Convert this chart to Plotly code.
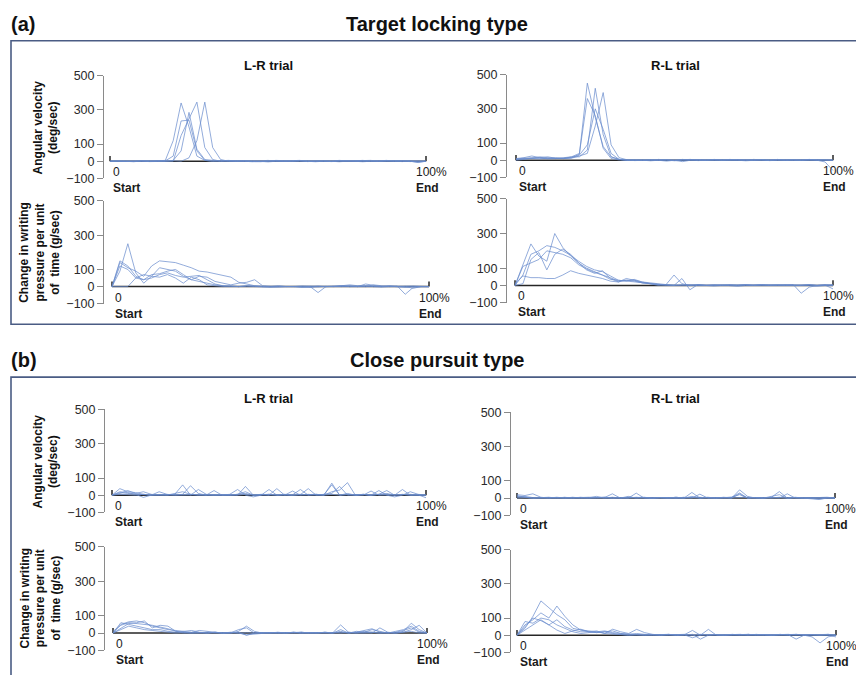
import plotly.graph_objects as go

# ---------------- data ----------------
PCT = [0, 2.5, 5, 7.5, 10, 12.5, 15, 17.5, 20, 22.5, 25, 27.5, 30, 32.5, 35, 37.5, 40,
       42.5, 45, 47.5, 50, 52.5, 55, 57.5, 60, 62.5, 65, 67.5, 70, 72.5, 75, 77.5, 80,
       82.5, 85, 87.5, 90, 92.5, 95, 97.5, 100]

Y_TICKS = [-100, 0, 100, 300, 500]

# (a) Target locking type, L-R trial, angular velocity
A_LR_ANG = [
    [0, 2, 0, -3, 2, 0, 3, 5, 120, 340, 200, 30, 5, 0, 3, 5, 2, 0, -5, -3, 0, 5, 3, 0, 2, -2, 0, 3, 0, -3, 0, 2, 5, 0, -2, 0, 3, 0, -2, 0, 0],
    [0, 0, 3, 2, 0, -2, 0, 2, 0, 150, 250, 345, 80, 10, 0, 2, 5, 3, 0, -2, 0, 2, 0, 3, 5, 0, -3, 0, 2, 0, 3, 0, -2, 0, 2, 5, 0, 3, 0, -5, 0],
    [0, 2, 0, 0, 3, 0, 2, 0, 3, 0, 20, 120, 345, 80, 10, 0, 2, 0, -3, 0, 3, 2, 0, -2, 0, 3, 0, 2, 0, 5, 2, 0, -3, 0, 2, 0, 3, 2, 0, 2, 0],
    [0, 0, 2, 0, -2, 0, 3, 0, 5, 60, 285, 70, 10, 3, 0, 2, 0, 3, 0, 2, 5, 0, -2, 0, 2, 0, 3, 0, -2, 0, 2, 0, 3, 5, 0, 2, 0, -2, 3, 0, 0],
    [0, 3, 0, 2, 0, 3, 0, 2, 30, 235, 240, 60, 5, 0, 2, 0, -2, 0, 3, 0, -4, 0, 2, 0, 3, 0, 2, 0, 0, 3, 0, -2, 0, 2, 0, 3, 0, 2, 0, -8, 0],
]
# (a) R-L trial, angular velocity
A_RL_ANG = [
    [5, 8, 12, 20, 15, 10, 12, 15, 35, 450, 250, 80, 20, 5, 0, 2, 0, -3, 0, 3, 0, 2, 5, 0, -2, 0, 3, 0, 2, 0, 5, 0, -2, 0, 3, 0, 2, 0, 3, 0, 0],
    [10, 15, 25, 15, 10, 8, 10, 20, 20, 60, 420, 150, 20, 5, 0, -2, 0, 3, 0, -5, 0, 2, 0, 3, 0, 5, 0, 2, 0, -3, 0, 2, 0, 5, 0, 3, 0, 2, 0, -10, -60],
    [0, 5, 10, 8, 12, 15, 10, 12, 25, 40, 200, 395, 90, 15, 3, 0, 2, 0, 5, 0, -3, 0, 2, 0, 3, 0, 2, 0, 4, 0, 2, 0, 3, 0, -2, 0, 2, 0, 3, 2, 0],
    [5, 10, 15, 12, 8, 10, 15, 20, 40, 360, 260, 70, 10, 2, 0, 3, 0, -2, 0, 2, 0, -8, 0, 3, 0, 2, 0, 5, 0, 2, 0, 3, 0, 2, 0, -2, 0, 4, 0, 2, 0],
    [8, 12, 10, 15, 20, 12, 10, 15, 30, 90, 300, 180, 40, 5, 0, 2, 0, 3, 0, 2, 0, 5, 0, -2, 0, 3, 0, 2, 0, 3, 0, -2, 0, 2, 0, 3, 0, 5, 0, 2, 0],
]
# (a) L-R trial, change in writing pressure
A_LR_PRES = [
    [0, 90, 250, 80, 20, 60, 110, 100, 90, 60, 40, 30, 20, 10, 5, 3, 0, 5, 0, 2, 0, -3, 0, 2, 0, -5, 0, 2, 0, 3, 0, 2, 5, 0, -3, 0, 2, 0, -10, 0, 0],
    [0, 150, 120, 60, 40, 50, 70, 80, 65, 55, 60, 65, 40, 15, 5, 2, 0, 3, 0, -2, 0, 5, 0, 2, 0, 3, 0, -2, 0, 5, 10, 5, 0, 2, 0, 3, 0, -5, 0, 2, 0],
    [0, 140, 110, 90, 60, 120, 150, 145, 140, 125, 110, 90, 85, 75, 65, 55, 25, 15, 5, 0, -3, 0, 2, 0, -5, 0, 2, 0, 3, 5, 0, 2, 0, 10, 5, 0, 2, 0, 3, 0, 0],
    [0, 0, 0, 50, 40, 70, 75, 90, 100, 70, 40, 60, 55, 30, 20, 10, 20, 25, 40, 5, 2, 0, -2, 0, 3, 0, -35, 0, 2, 0, 5, 0, 15, 8, 0, 5, 0, 3, 0, 0, 0],
    [0, 120, 100, 50, 70, 60, 55, 70, 50, 20, 55, 40, 10, 5, 0, 2, 0, 3, 5, 0, -3, 0, 2, 0, -2, 0, 3, 0, 2, 0, 3, 0, 5, 0, 2, 0, 3, -45, -5, 0, 0],
]
# (a) R-L trial, change in writing pressure
A_RL_PRES = [
    [0, 120, 240, 170, 140, 300, 220, 170, 130, 100, 80, 60, 45, 25, 30, 30, 20, 15, 10, 5, 60, 10, 0, 5, 0, -3, 0, 2, 0, 5, 0, 2, 0, 3, 0, -2, 0, 5, 0, 2, -20],
    [0, 60, 180, 200, 230, 220, 200, 175, 140, 110, 90, 80, 55, 30, 25, 35, 20, 10, 5, 5, 0, 40, -25, 5, 0, 2, 0, 3, 0, 2, 0, 5, 0, 2, 0, 5, -45, -10, 0, 5, 0],
    [0, 10, 150, 190, 90, 180, 210, 180, 130, 90, 70, 85, 40, 20, 40, 30, 15, 10, 5, 0, 3, 0, 5, 0, 2, 0, 3, 0, -5, 0, 2, 0, 3, 0, 5, 0, 2, 0, -5, 0, 5],
    [10, 55, 45, 45, 40, 40, 60, 85, 70, 60, 50, 40, 25, 20, 30, 25, 15, 10, 0, 5, 0, 3, 0, -2, 0, 5, 0, 3, 0, 2, 0, 5, 0, 2, 0, 3, 0, 2, 0, 3, 0],
    [0, 110, 130, 150, 200, 190, 180, 160, 120, 95, 75, 60, 35, 30, 25, 20, 15, 10, 5, 2, 0, 3, 0, 5, 0, 2, 0, 3, 0, 5, 0, 2, 0, 3, 0, 2, 0, 5, 0, 2, 0],
]
# (b) Close pursuit type, L-R trial, angular velocity
B_LR_ANG = [
    [0, 38, 20, 15, 5, 0, 3, 0, 5, 60, 0, 5, 0, 3, 0, 2, 0, 51, 0, 5, 0, 3, 0, 2, 33, 0, 5, 0, 70, 0, 5, 0, 3, 0, 27, 0, 2, 0, 5, 0, 0],
    [0, 10, 27, 10, 20, 5, 0, 3, 0, 5, 55, 10, 0, 27, 0, 5, 33, 0, -10, 0, 33, 0, 5, 0, 3, 38, 0, 5, 10, 51, 0, 3, 0, 24, 0, 5, 0, 33, 0, 3, 0],
    [0, 20, 15, 5, -13, 0, 20, 5, 0, 3, 0, 33, 5, 0, 3, 0, 5, 20, 0, 3, 0, 38, 0, 24, 0, 5, 0, 3, 60, 0, 10, 0, 5, 0, 3, 0, -10, 0, 20, 5, 0],
    [0, 5, 3, 0, 5, 0, 3, 0, 10, 20, 5, 0, 3, 0, 2, 0, 5, 10, 0, 3, 5, 0, 3, 0, 2, 0, 5, 0, 20, 30, 73, 0, 5, 0, 3, 10, 0, 5, 0, 2, 0],
    [0, 15, 10, 5, 3, 0, 2, 0, 3, 0, 5, 0, 2, 0, 0, 3, 0, 5, 0, 0, 5, 0, 2, 0, 5, 0, 3, 0, 5, 0, 2, 0, 3, 0, 5, 27, 0, 3, 0, 2, -15],
]
# (b) R-L trial, angular velocity
B_RL_ANG = [
    [20, 15, 25, 5, 0, 3, 0, 2, 0, 5, 0, 3, 25, 0, 5, 0, 3, 0, 2, 0, 5, 0, 33, 0, 3, 0, 5, 0, 48, 10, 0, 3, 0, 5, 0, 2, 0, 3, 0, 2, 0],
    [5, 10, 3, 0, 2, 0, 5, 0, 3, 0, 2, 5, 0, 3, 0, 29, 0, 2, 0, 3, 0, 5, 0, 23, 0, 2, 0, 5, 30, 0, 3, 0, 5, 38, 0, 3, 0, 2, 0, 5, 0],
    [10, 5, 0, 3, 0, 5, 0, 2, 0, 3, 10, 0, 5, 0, 2, 0, 5, 0, 3, 0, 2, 0, 10, 0, 3, 0, 2, 5, 20, 0, 3, 0, 5, 0, 25, 0, 2, 0, -5, 0, 5],
    [0, 3, 0, 2, 5, 0, 3, 0, 5, 0, 3, 0, 2, 0, 10, 0, 3, 0, 2, 0, 5, 0, 3, 0, 5, 0, 2, 0, 25, 0, 3, 0, 10, 20, 0, 3, 0, -5, -8, 0, 0],
    [15, 5, 0, 2, 0, 3, 0, 5, 0, 2, 0, 5, 0, 3, 0, 5, 0, 2, 0, 3, 0, 2, 0, 5, 0, 3, 0, 2, 0, 5, 0, 2, 0, 3, 0, 5, 0, 2, 0, 3, 0],
]
# (b) L-R trial, change in writing pressure
B_LR_PRES = [
    [0, 50, 65, 70, 60, 40, 30, 20, 15, 10, 5, 15, 10, 5, 0, 0, 10, 40, 10, 0, 3, 0, 2, 0, 5, 0, 3, 0, 2, 47, 5, 0, 3, 0, 30, 5, 0, 10, 57, 20, 0],
    [10, 45, 60, 55, 50, 45, 35, 25, 10, 0, 3, 0, 5, 0, 2, 0, 5, -13, 0, 2, 0, 3, 0, 5, 0, 2, 0, 3, 0, 5, 0, 10, 5, 20, 10, 0, 5, 15, 30, 5, 0],
    [0, 30, 55, 60, 70, 30, 45, 40, 10, 5, 0, 3, 0, 5, 0, 2, 20, 30, 0, 3, 0, 2, 0, 5, 0, 3, 0, 5, 0, 20, 0, 5, 15, 25, 5, 0, 10, 20, 40, 10, 0],
    [0, 20, 40, 30, 20, 15, 10, 5, 0, 3, 0, 2, 0, 5, 0, 3, 0, -10, -5, 0, 2, 0, 3, 0, 5, 0, 2, 0, 3, 0, 5, 0, 10, 5, 0, 3, 0, 5, 10, 0, 0],
    [0, 60, 50, 40, 30, 20, 20, 10, 5, 10, 15, 5, 0, 3, 0, 5, 0, 2, 0, 3, 0, 5, 0, 2, 0, 3, 0, 5, 0, 10, 0, 3, 0, 5, 0, 2, 0, 5, 20, 45, 0],
]
# (b) R-L trial, change in writing pressure
B_RL_PRES = [
    [0, 40, 110, 200, 160, 120, 90, 40, 30, 20, 15, 20, 25, 10, 5, 10, 5, 0, 3, 0, 2, 0, 5, -23, 0, 3, 0, 2, 0, 5, 0, 3, 0, 2, 0, 5, 0, 3, 0, 2, 0],
    [0, 60, 90, 130, 100, 170, 110, 60, 30, 25, 20, 25, 15, 10, 5, 3, 0, 2, 0, 5, 0, 3, 28, 0, 34, 0, 2, 0, 3, 0, 5, 0, 2, 0, 3, -23, 0, 2, 0, 5, 0],
    [0, 80, 70, 100, 90, 60, 40, 20, 10, 15, 20, 10, 35, 20, 10, 34, 15, 5, 0, 3, 0, 2, 0, 5, 0, 3, 0, 2, 0, 5, 0, 3, 0, 2, 0, 5, 0, -10, -45, -10, 0],
    [0, 30, 60, 90, 60, 30, 10, 25, 35, 20, 15, 20, 10, 5, 0, 3, 0, 2, 0, 5, 0, 2, -15, 0, 3, 0, 2, 0, 5, 0, 3, 0, 2, 0, 5, 0, 3, 0, 2, 0, -10],
    [0, 50, 100, 85, 60, 90, 50, 30, 20, 20, 25, 10, 5, 3, 0, 2, 0, 3, 0, 2, 0, 5, 0, 2, 0, 3, 0, 5, 0, 2, 0, 3, 0, 5, 0, 2, 0, 3, 0, 5, 0],
]

# ---------------- layout (pixel geometry) ----------------
W, H = 856, 675
FONT = "Liberation Sans, Arial, sans-serif"
LINE_COLOR = "rgba(105,140,205,0.80)"
BOX_COLOR = "#4a5c84"

# axis: px of y-axis line; x0/x100: px of 0% / 100%; top/bot: px of 500 / -100
PANELS = [
    dict(series=A_LR_ANG, axis=104, x0=110, x100=426, top=70, bot=175),
    dict(series=A_RL_ANG, axis=507, x0=516, x100=833, top=69, bot=174),
    dict(series=A_LR_PRES, axis=104, x0=112, x100=429, top=198, bot=303),
    dict(series=A_RL_PRES, axis=507, x0=515, x100=833, top=196, bot=302),
    dict(series=B_LR_ANG, axis=105, x0=112, x100=426, top=411, bot=516),
    dict(series=B_RL_ANG, axis=511, x0=517, x100=835, top=414, bot=519),
    dict(series=B_LR_PRES, axis=105, x0=113, x100=427, top=551, bot=657),
    dict(series=B_RL_PRES, axis=511, x0=517, x100=836, top=554, bot=659),
]

fig = go.Figure()
annotations = []
layout_axes = {}

for k, p in enumerate(PANELS, start=1):
    suf = "" if k == 1 else str(k)
    xa, ya = "x" + suf, "y" + suf
    s = (p["x100"] - p["x0"]) / 100.0
    right_px = p["x100"] + 3
    layout_axes["xaxis" + suf] = dict(
        domain=[p["axis"] / W, right_px / W],
        range=[(p["axis"] - p["x0"]) / s, (right_px - p["x0"]) / s],
        visible=False, anchor=ya, fixedrange=True,
    )
    layout_axes["yaxis" + suf] = dict(
        domain=[1 - p["bot"] / H, 1 - p["top"] / H],
        range=[-100, 500], tickvals=Y_TICKS, ticks="outside", ticklen=6,
        tickcolor="#8a8a8a", showline=True, linecolor="#8a8a8a", linewidth=1,
        showgrid=False, zeroline=False, anchor=xa, fixedrange=True,
        tickfont=dict(family=FONT, size=12.5, color="#2a2a2a"),
    )
    # zero (time) axis with end caps
    fig.add_trace(go.Scatter(x=[0, 100], y=[0, 0], mode="lines",
                             line=dict(color="#262626", width=1.5),
                             xaxis=xa, yaxis=ya, hoverinfo="skip", showlegend=False))
    fig.add_trace(go.Scatter(x=[0, 0, None, 100, 100], y=[0, 30, None, 0, 30], mode="lines",
                             line=dict(color="#262626", width=1.5),
                             xaxis=xa, yaxis=ya, hoverinfo="skip", showlegend=False))
    for ser in p["series"]:
        fig.add_trace(go.Scatter(x=PCT, y=ser, mode="lines",
                                 line=dict(color=LINE_COLOR, width=0.9),
                                 xaxis=xa, yaxis=ya, showlegend=False))
    annotations.append(dict(x=0, y=0, xref=xa, yref=ya, xanchor="left", yanchor="top",
                            xshift=1, yshift=-2, align="left", showarrow=False,
                            text="0<br><b>Start</b>",
                            font=dict(family=FONT, size=12, color="#1a1a1a")))
    annotations.append(dict(x=100, y=0, xref=xa, yref=ya, xanchor="left", yanchor="top",
                            xshift=-12, yshift=-2, align="left", showarrow=False,
                            text="100%<br><b>End</b>",
                            font=dict(family=FONT, size=12, color="#1a1a1a")))


def paper_text(px, py, text, size, xanchor="center", angle=0):
    annotations.append(dict(x=px / W, y=1 - py / H, xref="paper", yref="paper",
                            xanchor=xanchor, yanchor="middle", showarrow=False,
                            text=text, textangle=angle, align="center",
                            font=dict(family=FONT, size=size, color="#111111")))


# section titles
paper_text(9, 17, "<b>(a)</b>", 20, xanchor="left")
paper_text(437, 17, "<b>Target locking type</b>", 20)
paper_text(9, 360, "<b>(b)</b>", 20, xanchor="left")
paper_text(437, 360, "<b>Close pursuit type</b>", 20)

# panel titles
for py in (60, 400):
    paper_text(268, py, "<b>L-R trial</b>", 13)
    paper_text(675, py, "<b>R-L trial</b>", 13)

# y-axis labels
for py in (123, 464):
    paper_text(46, py, "<b>Angular velocity<br>(deg/sec)</b>", 12, angle=-90)
for py in (251, 604):
    paper_text(40, py, "<b>Change in writing<br>pressure per unit<br>of  time (g/sec)</b>", 12, angle=-90)

shapes = [
    dict(type="rect", xref="paper", yref="paper", x0=11 / W, x1=880 / W,
         y0=1 - 324 / H, y1=1 - 34.5 / H, line=dict(color=BOX_COLOR, width=1.6)),
    dict(type="rect", xref="paper", yref="paper", x0=11 / W, x1=880 / W,
         y0=1 - 700 / H, y1=1 - 378 / H, line=dict(color=BOX_COLOR, width=1.6)),
]

fig.update_layout(
    width=W, height=H, margin=dict(l=0, r=0, t=0, b=0),
    paper_bgcolor="white", plot_bgcolor="rgba(0,0,0,0)",
    showlegend=False, annotations=annotations, shapes=shapes,
    font=dict(family=FONT),
    **layout_axes,
)

fig.write_html(
    "out.html",
    config={"displayModeBar": False, "staticPlot": True},
    post_script=(
        "document.body.style.margin='0';document.body.style.padding='0';"
        "document.body.style.overflow='hidden';"
        "var gd=document.getElementById('{plot_id}');"
        "gd.style.position='absolute';gd.style.left='0px';gd.style.top='0px';"
    ),
)
